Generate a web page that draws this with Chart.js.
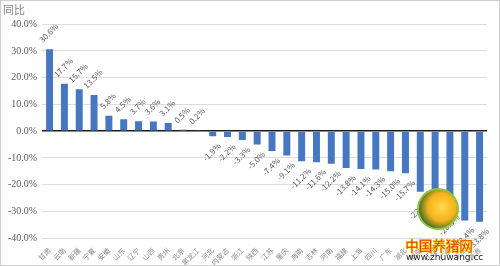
<!DOCTYPE html>
<html>
<head>
<meta charset="utf-8">
<script src="https://cdn.jsdelivr.net/npm/chart.js@4"></script>
<style>
  body { margin: 0; background: #fff; }
  #wrap { position: relative; width: 500px; height: 266px; border: 1px solid #cfcfcf; box-sizing: border-box; overflow: hidden; }
  #box { position: absolute; left: 0; top: 0; width: 498px; height: 264px; }
  #logo { position: absolute; left: 416px; top: 187px; width: 38px; height: 38px; border-radius: 50%;
          border: 2px solid #8cc63f; background: radial-gradient(circle at 60% 45%, #ffd84a 0%, #f5b21c 45%, #3d6b2a 75%); }
  #brand { position: absolute; left: 404px; top: 234px; font: bold 14px "Noto Sans CJK SC"; color: #e8380d;
           -webkit-text-stroke: 0.6px #f7c600; letter-spacing: -0.5px; }
  #site { position: absolute; left: 405px; top: 251px; font: 9px "DejaVu Sans"; color: #222; }
</style>
</head>
<body>
<div id="wrap">
  <div id="box"><canvas id="grafico"></canvas></div>
  <div id="logo"></div>
  <div id="brand">中国养猪网</div>
  <div id="site">www.zhuwang.cc</div>
</div>
<script>
// provincias y variación interanual (%)
const provinces = ["甘肃", "云南", "新疆", "宁夏", "安徽", "山东", "辽宁", "山西", "贵州", "北京",
  "黑龙江", "河北", "内蒙古", "浙江", "陕西", "江苏", "重庆", "海南", "吉林", "河南",
  "福建", "上海", "四川", "广东", "湖北", "湖南", "江西", "广西", "天津", "青海"];
const change = [30.6, 17.7, 15.7, 13.5, 5.8, 4.5, 3.7, 3.6, 3.1, 0.5,
  0.2, -1.9, -2.2, -3.3, -5.0, -7.4, -9.1, -11.2, -11.6, -12.2,
  -13.8, -14.1, -14.3, -15.0, -15.7, -22.6, -24.8, -28.5, -33.4, -33.8];
const yTicks = [-40, -30, -20, -10, 0, 10, 20, 30, 40];

// etiquetas giradas encima / debajo de cada barra
const barLabels = {
  id: "barLabels",
  afterDatasetsDraw(chart) {
    const c = chart.ctx;
    const meta = chart.getDatasetMeta(0);
    c.save();
    c.font = '8px "Noto Sans CJK SC"';
    c.fillStyle = "#595959";
    c.textAlign = "center";
    c.textBaseline = "middle";
    meta.data.forEach((bar, i) => {
      const v = change[i];
      const txt = v.toFixed(1) + "%";
      const w = c.measureText(txt).width;
      const off = (w + 9) * 0.3536 + 5;
      c.save();
      c.translate(bar.x - 1, v >= 0 ? bar.y - off : bar.y + off);
      c.rotate(-Math.PI / 4);
      c.fillText(txt, 0, 0);
      c.restore();
    });
    c.restore();
  }
};

const ctx = document.getElementById("grafico").getContext("2d");
new Chart(ctx, {
  type: "bar",
  data: {
    labels: provinces,
    datasets: [{
      label: "同比",
      data: change,
      backgroundColor: "#4677c0",
      barPercentage: 0.47,
      categoryPercentage: 1
    }]
  },
  options: {
    responsive: true,
    maintainAspectRatio: false,
    animation: false,
    layout: { padding: { left: 2, right: 12, top: 0, bottom: -2 } },
    plugins: {
      legend: { display: false },
      tooltip: { enabled: false },
      title: {
        display: true, text: "同比", align: "start",
        color: "#7f7f7f", font: { family: "Noto Sans CJK SC", size: 11, weight: "normal" },
        padding: { top: 2, bottom: 8 }
      }
    },
    scales: {
      x: {
        grid: { display: false },
        border: { display: false },
        ticks: {
          autoSkip: false, maxRotation: 45, minRotation: 45, padding: 0,
          color: "#8a8a8a", font: { family: "Noto Sans CJK SC", size: 7 }
        }
      },
      y: {
        min: -40, max: 40,
        afterBuildTicks: axis => { axis.ticks = yTicks.map(v => ({ value: v })); },
        border: { display: false },
        grid: {
          color: c => c.tick.value === 0 ? "#1a1a1a" : "#dcdcdc",
          lineWidth: c => c.tick.value === 0 ? 1.5 : 1,
          drawTicks: false
        },
        ticks: {
          padding: 5, color: "#595959",
          font: { family: "Liberation Serif", size: 10 },
          callback: v => v.toFixed(1) + "%"
        }
      }
    }
  },
  plugins: [barLabels]
});
</script>
</body>
</html>
